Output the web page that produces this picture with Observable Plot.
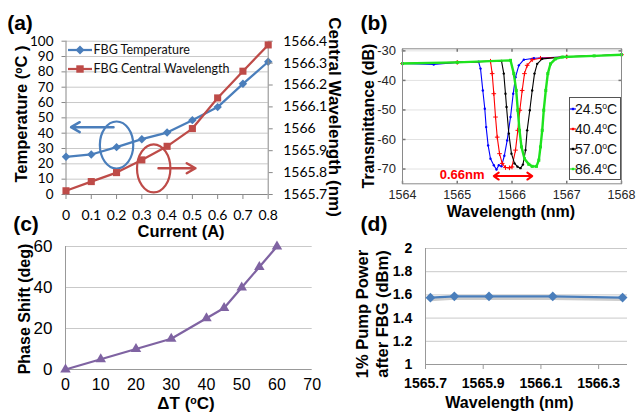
<!DOCTYPE html>
<html><head><meta charset="utf-8">
<script src="https://cdn.jsdelivr.net/npm/d3@7"></script>
<script src="https://cdn.jsdelivr.net/npm/@observablehq/plot@0.6"></script>
<style>
html,body{margin:0;padding:0;background:#fff;}
#root{position:relative;width:636px;height:412px;overflow:hidden;background:#fff;}
.lab{position:absolute;white-space:nowrap;line-height:1;}
.sup{font-size:0.62em;position:relative;top:-0.5em;}
</style></head><body><div id="root"></div>
<script>
// ================= DATA =================
// (a) FBG temperature and central wavelength vs heater current
const currentA = [0, 0.1, 0.2, 0.3, 0.4, 0.5, 0.6, 0.7, 0.8];
const fbgTemperature = [24.6, 26.1, 30.9, 36.1, 40.4, 48.5, 57.0, 72.2, 86.6];
const fbgWavelength = [1565.717, 1565.759, 1565.800, 1565.858, 1565.920, 1566.001, 1566.141, 1566.263, 1566.383];
const tempTicks = [0, 10, 20, 30, 40, 50, 60, 70, 80, 90, 100];
const wavelengthTicksA = [1565.7, 1565.8, 1565.9, 1566, 1566.1, 1566.2, 1566.3, 1566.4];
const tempRing = [{c: 0.2, v: 32.3}];
const tempArrow = [{c1: 0.188, c2: 0.02, v: 43.9}];
const wlRing = [{c: 0.347, v: 1565.819}];
const wlArrow = [{c1: 0.366, c2: 0.512, v: 1565.82}];

// (b) transmission spectra at four temperatures
const wl245 = [1564, 1564.57, 1565, 1565.39, 1565.425, 1565.467, 1565.503, 1565.528, 1565.564, 1565.607, 1565.668, 1565.717, 1565.759, 1565.808, 1565.86, 1565.912, 1565.973, 1566.022, 1566.064, 1566.125, 1566.216, 1566.40, 1567, 1568];
const db245 = [-34.3, -34.6, -33.9, -33.7, -36.0, -43.4, -49.6, -55.8, -62.0, -66.5, -68.7, -70.2, -68.7, -69.1, -65.5, -60.3, -52.4, -44.5, -38.9, -34.9, -33.0, -32.5, -32.0, -31.3];
const wl404 = [1564, 1565, 1565.607, 1565.638, 1565.668, 1565.699, 1565.73, 1565.772, 1565.821, 1565.881, 1565.954, 1566.0, 1566.064, 1566.106, 1566.143, 1566.186, 1566.228, 1566.277, 1566.369, 1566.52, 1567, 1568];
const db404 = [-34.3, -33.9, -33.5, -37.7, -44.5, -52.4, -59.2, -64.8, -68.1, -69.5, -69.6, -69.3, -63.6, -56.9, -50.1, -43.4, -37.7, -34.9, -33.0, -32.5, -32.0, -31.3];
const wl570 = [1564, 1565, 1565.808, 1565.85, 1565.881, 1565.90, 1565.942, 1565.99, 1566.046, 1566.1, 1566.155, 1566.2, 1566.247, 1566.277, 1566.325, 1566.369, 1566.411, 1566.46, 1566.552, 1567, 1568];
const db570 = [-34.3, -33.9, -33.4, -37.7, -44.5, -49.0, -58.0, -64.8, -68.1, -69.2, -69.7, -68.5, -63.6, -56.9, -50.1, -43.4, -37.7, -34.4, -32.7, -32.0, -31.3];
const wl864 = [1564, 1565, 1565.973, 1566.033, 1566.077, 1566.106, 1566.137, 1566.173, 1566.228, 1566.307, 1566.369, 1566.447, 1566.49, 1566.52, 1566.552, 1566.58, 1566.617, 1566.654, 1566.703, 1566.794, 1566.917, 1567.5, 1568];
const db864 = [-34.3, -33.9, -33.2, -37.7, -43.4, -50.1, -56.9, -62.5, -66.5, -68.4, -69.1, -69.1, -67.0, -62.5, -56.9, -50.1, -43.4, -37.7, -34.4, -32.7, -32.1, -31.7, -31.3];
const tempLabelsB = ["24.5", "40.4", "57.0", "86.4"];
const wlTicksB = [1564, 1565, 1566, 1567, 1568];
const dbTicksB = [-70, -60, -50, -40, -30];
const shiftText = [{wl: 1565.09, db: -72.1, t: "0.66nm"}];
const shiftArrows = [{from: 1566.02, to: 1565.667, db: -72.4}, {from: 1566.02, to: 1566.37, db: -72.4}];

// (c) phase shift vs temperature change
const deltaT = [0, 10, 20, 30, 40, 45, 50, 55, 60];
const phaseShift = [0, 5, 10, 15, 25, 30, 40, 50, 60];
const dTTicks = [0, 10, 20, 30, 40, 50, 60, 70];
const phaseTicks = [0, 20, 40, 60];

// (d) pump power after FBG vs wavelength
const pumpWavelength = [1565.717, 1565.800, 1565.920, 1566.141, 1566.383];
const pumpPower = [1.576, 1.588, 1.587, 1.587, 1.577];
const powerTicks = [1, 1.2, 1.4, 1.6, 1.8, 2];
const wlTicksD = [1565.7, 1565.9, 1566.1, 1566.3];

// ================= HELPERS =================
const root = document.getElementById("root");
const ARIAL = "'Liberation Sans', Arial, sans-serif";
function place(el, left, top) {
  Object.assign(el.style, {position: "absolute", left: left + "px", top: top + "px"});
  root.appendChild(el); return el;
}
function label(html, cx, cy, o = {}) {
  const d = document.createElement("div");
  d.className = "lab"; d.innerHTML = html;
  Object.assign(d.style, {left: cx + "px", top: cy + "px", fontSize: (o.size || 16) + "px",
    fontWeight: o.weight || "bold", fontFamily: o.family || ARIAL, color: o.color || "#000",
    transform: `translate(-50%,-50%) rotate(${o.rot || 0}deg)`});
  root.appendChild(d);
}
const st = (fam, size) => ({background: "transparent", overflow: "visible", fontFamily: fam, fontSize: size + "px", color: "#000"});
const ell = (rx, ry) => { const k = 0.5523; return {draw(ctx) {
  ctx.moveTo(rx, 0); ctx.bezierCurveTo(rx, ry * k, rx * k, ry, 0, ry);
  ctx.bezierCurveTo(-rx * k, ry, -rx, ry * k, -rx, 0);
  ctx.bezierCurveTo(-rx, -ry * k, -rx * k, -ry, 0, -ry);
  ctx.bezierCurveTo(rx * k, -ry, rx, -ry * k, rx, 0); ctx.closePath(); }}; };
const tick = (dx, dy) => ({draw(ctx) { ctx.moveTo(0, 0); ctx.lineTo(dx, dy); }});
const fmt = d => String(d);

// ================= PANEL (a) =================
const BLUE_A = "#4a7ebb", RED_A = "#be4b48";
const tData = currentA.map((c, i) => ({c, v: fbgTemperature[i]}));
const wData = currentA.map((c, i) => ({c, v: fbgWavelength[i]}));
const A = {width: 320, height: 225, marginLeft: 65.5, marginRight: 52.3, marginTop: 40.7, marginBottom: 31};
const pa1 = Plot.plot({...A, style: st("Lato", 14),
  x: {domain: [0, 0.8], axis: null}, y: {domain: [0, 100], axis: null},
  marks: [
    Plot.gridY(tempTicks.filter(d => d > 0), {stroke: "#c9c9c9", strokeOpacity: 1}),
    Plot.axisX(currentA, {tickSize: 5, tickPadding: 11, stroke: "#888", tickFormat: fmt, fontSize: 14, fontFamily: "Lato", label: null}),
    Plot.axisY(tempTicks, {tickSize: 4, tickPadding: 8.5, stroke: "#888", tickFormat: fmt, fontSize: 13.5, fontFamily: "Lato", label: null}),
    Plot.ruleX([0], {stroke: "#888"}),
    Plot.ruleY([0], {stroke: "#888"}),
    Plot.line(tData, {x: "c", y: "v", stroke: BLUE_A, strokeWidth: 2.25}),
    Plot.dot(tData, {x: "c", y: "v", symbol: "diamond2", r: 3.8, fill: BLUE_A}),
    Plot.dot(tempRing, {x: "c", y: "v", symbol: ell(16.7, 23.5), stroke: BLUE_A, strokeWidth: 2.2, fill: "none"}),
    Plot.arrow(tempArrow, {x1: "c1", x2: "c2", y1: "v", y2: "v", stroke: BLUE_A, strokeWidth: 2.5, headLength: 6, headAngle: 60})
  ]});
place(pa1, 0, 0);
const pa2 = Plot.plot({...A, style: st("Lato", 14),
  x: {domain: [0, 0.8], axis: null}, y: {domain: [1565.7, 1566.4], axis: null},
  marks: [
    Plot.ruleX([0.8], {stroke: "#888"}),
    Plot.axisY(wavelengthTicksA, {anchor: "right", tickSize: 4, tickPadding: 11, stroke: "#888", tickFormat: fmt, fontSize: 14, fontFamily: "Lato", label: null}),
    Plot.line(wData, {x: "c", y: "v", stroke: RED_A, strokeWidth: 2.25}),
    Plot.dot(wData, {x: "c", y: "v", symbol: "square", r: 4, fill: RED_A}),
    Plot.dot(wlRing, {x: "c", y: "v", symbol: ell(16.7, 24), stroke: RED_A, strokeWidth: 2.2, fill: "none"}),
    Plot.arrow(wlArrow, {x1: "c1", x2: "c2", y1: "v", y2: "v", stroke: RED_A, strokeWidth: 2.5, headLength: 6, headAngle: 60})
  ]});
place(pa2, 0, 0);
// legend (a)
function legendRow(x, y, color, shape, text, font, size) {
  const s = document.createElementNS("http://www.w3.org/2000/svg", "svg");
  s.setAttribute("width", 24); s.setAttribute("height", 12);
  const mk = shape === "diamond" ? `<path d="M12,1.5L16.5,6L12,10.5L7.5,6Z" fill="${color}"/>` : `<rect x="8.3" y="2.3" width="7.4" height="7.4" fill="${color}"/>`;
  s.innerHTML = `<line x1="0" x2="24" y1="6" y2="6" stroke="${color}" stroke-width="2.25"/>` + mk;
  place(s, x, y - 6);
  const t = document.createElement("div"); t.className = "lab"; t.textContent = text;
  Object.assign(t.style, {left: (x + 25.5) + "px", top: y + "px", transform: "translate(0,-50%)", fontFamily: font, fontSize: size + "px", color: "#111"});
  root.appendChild(t);
}
legendRow(68, 50, BLUE_A, "diamond", "FBG Temperature", "Lato", 12.5);
legendRow(68, 68.5, RED_A, "square", "FBG Central Wavelength", "Lato", 12.5);

// ================= PANEL (b) =================
const B = {width: 316, height: 205, marginLeft: 82, marginRight: 15, marginTop: 48.3, marginBottom: 21.7};
const curveDefs = [
  {wl: wl245, db: db245, color: "#0000ff", sw: 1.1, sym: "circle", r: 1.2},
  {wl: wl404, db: db404, color: "#ff0000", sw: 1.1, sym: "plus", r: 1.6},
  {wl: wl570, db: db570, color: "#000000", sw: 1.1, sym: "circle", r: 1.2},
  {wl: wl864, db: db864, color: "#1ee31e", sw: 2.4, sym: "square", r: 1.7}
];
const curveMarks = curveDefs.flatMap(cd => {
  const pts = cd.wl.map((w, i) => ({w, d: cd.db[i]}));
  const dotOpts = cd.sym === "plus" ? {stroke: cd.color, strokeWidth: 1} : {fill: cd.color};
  return [Plot.line(pts, {x: "w", y: "d", stroke: cd.color, strokeWidth: cd.sw}),
          Plot.dot(pts, {x: "w", y: "d", symbol: cd.sym, r: cd.r, ...dotOpts})];
});
const pb = Plot.plot({...B, style: st(ARIAL, 13),
  x: {domain: [1564, 1568], axis: null}, y: {domain: [-75, -29.3], axis: null},
  marks: [
    Plot.gridY(dbTicksB, {stroke: "#e2e2e2", strokeOpacity: 1}),
    Plot.axisX(wlTicksB, {tickSize: 0, tickPadding: 6, tickFormat: fmt, fontSize: 12.5, fontFamily: ARIAL, fill: "#262626", label: null}),
    Plot.axisY(dbTicksB, {tickSize: 0, tickPadding: 6.5, tickFormat: fmt, fontSize: 13, fontFamily: ARIAL, fill: "#262626", label: null}),
    Plot.dot(wlTicksB, {x: d => d, frameAnchor: "bottom", symbol: tick(0, -3), stroke: "#777", fill: "none"}),
    Plot.dot(wlTicksB, {x: d => d, frameAnchor: "top", symbol: tick(0, 3), stroke: "#777", fill: "none"}),
    Plot.dot(dbTicksB, {y: d => d, frameAnchor: "left", symbol: tick(3, 0), stroke: "#777", fill: "none"}),
    Plot.dot(dbTicksB, {y: d => d, frameAnchor: "right", symbol: tick(-3, 0), stroke: "#777", fill: "none"}),
    ...curveMarks,
    Plot.frame({stroke: "#8a8a8a"}),
    Plot.text(shiftText, {x: "wl", y: "db", text: "t", fill: "#ff0000", fontWeight: "bold", fontSize: 13, fontFamily: ARIAL}),
    Plot.arrow(shiftArrows, {x1: "from", x2: "to", y1: "db", y2: "db", stroke: "#ff0000", strokeWidth: 2, headLength: 4.5, headAngle: 70})
  ]});
place(pb, 320, 0);
// legend (b)
const legB = document.createElement("div");
Object.assign(legB.style, {width: "52px", height: "83px", border: "1px solid #555", background: "#fff", boxSizing: "border-box"});
place(legB, 568.5, 96.5);
curveDefs.forEach((cd, i) => {
  const y = 108.5 + 20 * i;
  const s = document.createElementNS("http://www.w3.org/2000/svg", "svg");
  s.setAttribute("width", 6); s.setAttribute("height", 6);
  s.innerHTML = `<line x1="0" x2="6" y1="3" y2="3" stroke="${cd.color}" stroke-width="1.2"/><rect x="1.8" y="1.8" width="2.4" height="2.4" fill="${cd.color}"/>`;
  place(s, 570, y - 3);
  const t = document.createElement("div"); t.className = "lab";
  t.innerHTML = `${tempLabelsB[i]}<span class="sup">o</span>C`;
  Object.assign(t.style, {left: "575px", top: y + "px", transform: "translate(0,-50%)", fontFamily: ARIAL, fontSize: "14px", color: "#111"});
  root.appendChild(t);
});

// ================= PANEL (c) =================
const PURPLE = "#7f63a2";
const cData = deltaT.map((t, i) => ({t, p: phaseShift[i]}));
const pc = Plot.plot({width: 320, height: 187, marginLeft: 65, marginRight: 8.3, marginTop: 21, marginBottom: 43,
  style: st(ARIAL, 17),
  x: {domain: [0, 70], axis: null}, y: {domain: [0, 60], axis: null},
  marks: [
    Plot.gridY(phaseTicks.filter(d => d > 0), {stroke: "#c9c9c9", strokeOpacity: 1}),
    Plot.ruleX([0], {stroke: "#999"}),
    Plot.ruleY([0], {stroke: "#999"}),
    Plot.axisX(dTTicks, {tickSize: 0, tickPadding: 9, tickFormat: fmt, fontSize: 16, fontFamily: ARIAL, label: null}),
    Plot.axisY(phaseTicks, {tickSize: 0, tickPadding: 13, tickFormat: fmt, fontSize: 17, fontFamily: ARIAL, label: null}),
    Plot.line(cData, {x: "t", y: "p", stroke: PURPLE, strokeWidth: 2.25}),
    Plot.dot(cData, {x: "t", y: "p", symbol: "triangle", r: 3.9, fill: PURPLE})
  ]});
place(pc, 0, 225);

// ================= PANEL (d) =================
const BLUE_D = "#4a7ebb";
const dData = pumpWavelength.map((w, i) => ({w, p: pumpPower[i]}));
const pd = Plot.plot({width: 316, height: 187, marginLeft: 105, marginRight: 9, marginTop: 23, marginBottom: 48,
  style: st(ARIAL, 14),
  x: {domain: [1565.7, 1566.4], axis: null}, y: {domain: [1, 2], axis: null},
  marks: [
    Plot.gridY(powerTicks.filter(d => d > 1), {stroke: "#c9c9c9", strokeOpacity: 1}),
    Plot.ruleX([1565.7], {stroke: "#999"}),
    Plot.ruleY([1], {stroke: "#999"}),
    Plot.axisX(wlTicksD, {tickSize: 5, tickPadding: 8.2, stroke: "#999", tickFormat: fmt, fontSize: 14, fontWeight: "bold", fontFamily: ARIAL, label: null}),
    Plot.axisY(powerTicks, {tickSize: 0, tickPadding: 13.3, tickFormat: fmt, fontSize: 14, fontWeight: "bold", fontFamily: ARIAL, label: null}),
    Plot.line(dData, {x: "w", y: "p", stroke: "#9a9a9a", strokeOpacity: 0.5, strokeWidth: 3, dy: 2}),
    Plot.line(dData, {x: "w", y: "p", stroke: BLUE_D, strokeWidth: 2.25}),
    Plot.dot(dData, {x: "w", y: "p", symbol: "diamond2", r: 4.4, fill: BLUE_D})
  ]});
place(pd, 320, 225);

// ================= TITLES =================
label("(a)", 20, 22, {size: 21});
label("(b)", 374, 22, {size: 21});
label("(c)", 26, 223, {size: 21});
label("(d)", 374, 223, {size: 21});
label('Temperature (<span class="sup">o</span>C )', 21, 114, {rot: -90, size: 16.5});
label("Central Wavelength (nm)", 334, 117, {rot: 90, size: 17});
label("Current (A)", 181, 231, {size: 16.5});
label("Transmittance (dB)", 369, 116, {rot: -90, size: 16});
label("Wavelength (nm)", 511, 211.5, {size: 16});
label("Phase Shift (deg)", 25, 309, {rot: -90, size: 16});
label('ΔT (<span class="sup">o</span>C)', 186, 403.3, {size: 17});
label("1% Pump Power", 362, 314, {rot: -90, size: 16.5});
label("after FBG (dBm)", 382, 314, {rot: -90, size: 16.5});
label("Wavelength (nm)", 509.5, 403, {size: 16});
</script></body></html>
